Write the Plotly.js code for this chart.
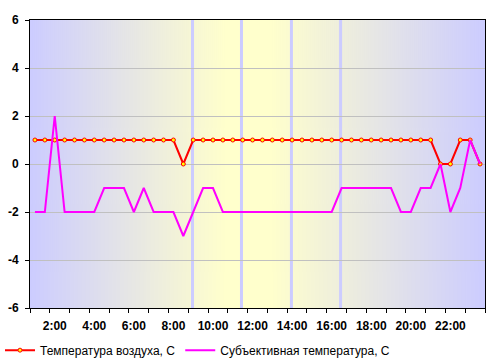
<!DOCTYPE html>
<html>
<head>
<meta charset="utf-8">
<script src="https://cdn.plot.ly/plotly-3.0.1.min.js"></script>
<style>
html,body{margin:0;padding:0;background:#fff;}
#chart{width:497px;height:364px;}
</style>
</head>
<body>
<div id="chart"></div>
<script>
// Categories: observation times (half-hourly)
const times = ['1:00','1:30','2:00','2:30','3:00','3:30','4:00','4:30','5:00','5:30',
  '6:00','6:30','7:00','7:30','8:00','8:30','9:00','9:30','10:00','10:30',
  '11:00','11:30','12:00','12:30','13:00','13:30','14:00','14:30','15:00','15:30',
  '16:00','16:30','17:00','17:30','18:00','18:30','19:00','19:30','20:00','20:30',
  '21:00','21:30','22:00','22:30','23:00','23:30'];

// Air temperature, C
const airTemp = [1,1,1,1,1,1,1,1,1,1,
  1,1,1,1,1,0,1,1,1,1,
  1,1,1,1,1,1,1,1,1,1,
  1,1,1,1,1,1,1,1,1,1,
  1,0,0,1,1,0];

// Feels-like temperature, C
const feelsTemp = [-2,-2,2,-2,-2,-2,-2,-1,-1,-1,
  -2,-1,-2,-2,-2,-3,-2,-1,-1,-2,
  -2,-2,-2,-2,-2,-2,-2,-2,-2,-2,
  -2,-1,-1,-1,-1,-1,-1,-2,-2,-1,
  -1,0,-2,-1,1,0];

const seriesNames = ['Температура воздуха, С', 'Субъективная температура, С'];
const yTickVals = [-6,-4,-2,0,2,4,6];
const yTickLabels = ['-6','-4','-2','0','2','4','6'];

// label every 4th category starting at 2:00
const labelIdx = [];
for (let i = 2; i < times.length; i += 4) labelIdx.push(i);
const labelText = labelIdx.map(i => times[i]);
// tick marks at every 2nd category boundary
const tickPos = [];
for (let b = 0; b <= times.length; b += 2) tickPos.push(b - 0.5);

const xIdx = times.map((t, i) => i);

// background gradient (decoration)
const cv = document.createElement('canvas');
cv.width = 455; cv.height = 4;
const ctx = cv.getContext('2d');
const g = ctx.createLinearGradient(0, 0, 455, 0);
g.addColorStop(0, '#CCCCFF');
g.addColorStop(0.43, '#FFFFCC');
g.addColorStop(0.53, '#FFFFCC');
g.addColorStop(1, '#CCCCFF');
ctx.fillStyle = g;
ctx.fillRect(0, 0, 455, 4);
const bgURL = cv.toDataURL('image/png');

const bandPos = [15.93, 20.88, 25.93, 30.9];

const font = 'Liberation Sans, Arial, sans-serif';

const traces = [
  {
    x: xIdx, y: airTemp, name: seriesNames[0], type: 'scatter', mode: 'lines+markers',
    line: {color: '#FF0000', width: 2},
    marker: {symbol: 'circle', size: 4, color: '#FFFF00', line: {color: '#FF0000', width: 1}},
    xaxis: 'x', yaxis: 'y'
  },
  {
    x: xIdx, y: feelsTemp, name: seriesNames[1], type: 'scatter', mode: 'lines',
    line: {color: '#FF00FF', width: 2},
    xaxis: 'x2', yaxis: 'y'
  }
];

const xr = [-0.5, times.length - 0.5];

const layout = {
  width: 497, height: 364,
  margin: {l: 30, r: 12, t: 20, b: 56},
  paper_bgcolor: '#FFFFFF',
  plot_bgcolor: 'rgba(0,0,0,0)',
  showlegend: true,
  font: {family: font, size: 12, color: '#000'},
  xaxis: {
    type: 'linear', range: xr, tickmode: 'array', tickvals: tickPos,
    showticklabels: false, ticks: 'outside', ticklen: 4, tickcolor: '#000', tickwidth: 1,
    showgrid: false, zeroline: false, showline: true, linecolor: '#000', linewidth: 1, mirror: true
  },
  xaxis2: {
    type: 'linear', range: xr, overlaying: 'x', side: 'bottom', tickmode: 'array',
    tickvals: labelIdx, ticktext: labelText, ticks: 'outside', ticklen: 4, tickcolor: 'rgba(0,0,0,0)',
    ticklabelstandoff: 3,
    showgrid: false, zeroline: false, showline: false,
    tickfont: {family: font, size: 12, color: '#000', weight: 'bold'}
  },
  yaxis: {
    range: [-6, 6], tickmode: 'array', tickvals: yTickVals, ticktext: yTickLabels,
    ticks: 'outside', ticklen: 4, tickcolor: '#000', tickwidth: 1, ticklabelstandoff: 4,
    showgrid: true, gridcolor: '#C0C0C0', gridwidth: 1, zeroline: false,
    showline: true, linecolor: '#000', linewidth: 1, mirror: true,
    tickfont: {family: font, size: 12, color: '#000', weight: 'bold'}
  },
  images: [{
    source: bgURL, xref: 'paper', yref: 'paper', x: 0, y: 1, sizex: 1, sizey: 1,
    sizing: 'stretch', xanchor: 'left', yanchor: 'top', layer: 'below'
  }],
  shapes: bandPos.map(p => ({
    type: 'line', xref: 'x', yref: 'paper', x0: p, x1: p, y0: 0, y1: 1,
    line: {color: '#CCCCFF', width: 3}, layer: 'between'
  })),
  legend: {
    orientation: 'h', xref: 'container', yref: 'container', x: 0.0, y: 0.038,
    xanchor: 'left', yanchor: 'middle', bgcolor: 'rgba(0,0,0,0)',
    font: {family: font, size: 12, color: '#000'}, itemwidth: 30
  }
};

Plotly.newPlot('chart', traces, layout, {displayModeBar: false, staticPlot: true});
</script>
</body>
</html>
